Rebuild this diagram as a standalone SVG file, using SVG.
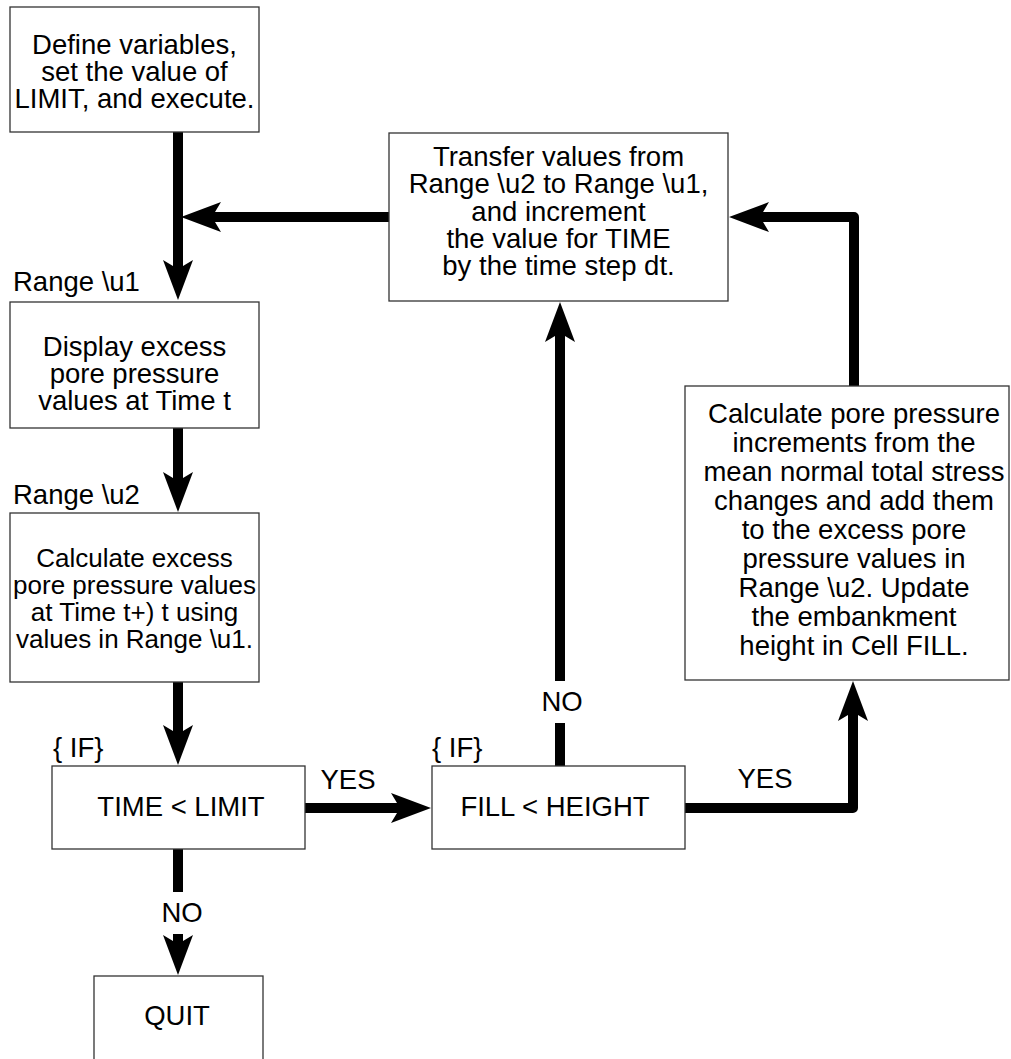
<svg xmlns="http://www.w3.org/2000/svg" width="1011" height="1059" viewBox="0 0 1011 1059">
<style>
.box{fill:#fff;stroke:#333;stroke-width:1.3}
text{font-family:"Liberation Sans",Arial,sans-serif;font-size:27.5px;fill:#000}
.c{text-anchor:middle}
.s{font-size:26px}
.conn{fill:none;stroke:#000;stroke-width:10;stroke-linejoin:round;marker-end:url(#ah)}
.seg{fill:none;stroke:#000;stroke-width:10}
</style>
<defs>
<marker id="ah" markerUnits="userSpaceOnUse" orient="auto" refX="0" refY="0" markerWidth="40" markerHeight="30" overflow="visible">
<path d="M31,0 L-9,-15 L0,0 L-9,15 Z" fill="#000"/>
</marker>
</defs>
<rect width="1011" height="1059" fill="#fff"/>
<g id="connectors">
<path class="conn" d="M178,132 V269"/>
<path class="conn" d="M389,217 H212"/>
<path class="conn" d="M178,428 V481"/>
<path class="conn" d="M178,682 V734"/>
<path class="seg" d="M178,849 V892"/>
<path class="conn" d="M178,934 V944"/>
<path class="conn" d="M305,808 H400"/>
<path class="seg" d="M560,766 V723"/>
<path class="conn" d="M560,681 V333"/>
<path class="conn" d="M685,808 H853 V712"/>
<path class="conn" d="M854,386 V217 H760"/>
</g>
<g id="n1">
<rect class="box" x="10" y="7" width="249" height="125"/>
<text class="c" x="134.5" y="54">Define variables,</text>
<text class="c" x="134.5" y="81">set the value of</text>
<text class="c" x="134.5" y="108">LIMIT, and execute.</text>
</g>
<g id="n2">
<text x="13" y="291">Range \u1</text>
<rect class="box" x="10" y="302" width="249" height="126"/>
<text class="c" x="134.5" y="356">Display excess</text>
<text class="c" x="134.5" y="383">pore pressure</text>
<text class="c" x="134.5" y="410">values at Time t</text>
</g>
<g id="n3">
<text x="13" y="504">Range \u2</text>
<rect class="box" x="10" y="513" width="249" height="169"/>
<text class="c s" x="134.5" y="567">Calculate excess</text>
<text class="c s" x="134.5" y="594">pore pressure values</text>
<text class="c s" x="134.5" y="621">at Time t+) t using</text>
<text class="c s" x="134.5" y="648">values in Range \u1.</text>
</g>
<g id="n4">
<text x="53" y="757">{ IF}</text>
<rect class="box" x="52" y="766" width="253" height="83"/>
<text class="c" x="181" y="816">TIME &lt; LIMIT</text>
</g>
<g id="n5">
<rect class="box" x="94" y="976" width="169" height="100"/>
<text class="c" x="177" y="1025">QUIT</text>
</g>
<g id="n6">
<text x="432" y="757">{ IF}</text>
<rect class="box" x="432" y="766" width="253" height="83"/>
<text class="c" x="555" y="816">FILL &lt; HEIGHT</text>
</g>
<g id="n7">
<rect class="box" x="389" y="133" width="339" height="168"/>
<text class="c" x="558.5" y="166">Transfer values from</text>
<text class="c" x="558.5" y="193">Range \u2 to Range \u1,</text>
<text class="c" x="558.5" y="221">and increment</text>
<text class="c" x="558.5" y="248">the value for TIME</text>
<text class="c" x="558.5" y="275">by the time step dt.</text>
</g>
<g id="n8">
<rect class="box" x="685" y="386" width="324" height="294"/>
<text class="c" x="854" y="423">Calculate pore pressure</text>
<text class="c" x="854" y="452">increments from the</text>
<text class="c" x="854" y="481">mean normal total stress</text>
<text class="c" x="854" y="510">changes and add them</text>
<text class="c" x="854" y="539">to the excess pore</text>
<text class="c" x="854" y="568">pressure values in</text>
<text class="c" x="854" y="597">Range \u2.  Update</text>
<text class="c" x="854" y="626">the embankment</text>
<text class="c" x="854" y="655">height in Cell FILL.</text>
</g>
<g id="labels">
<text class="c" x="348" y="789">YES</text>
<text class="c" x="765" y="788">YES</text>
<text class="c" x="562" y="711">NO</text>
<text class="c" x="182" y="922">NO</text>
</g>
</svg>
